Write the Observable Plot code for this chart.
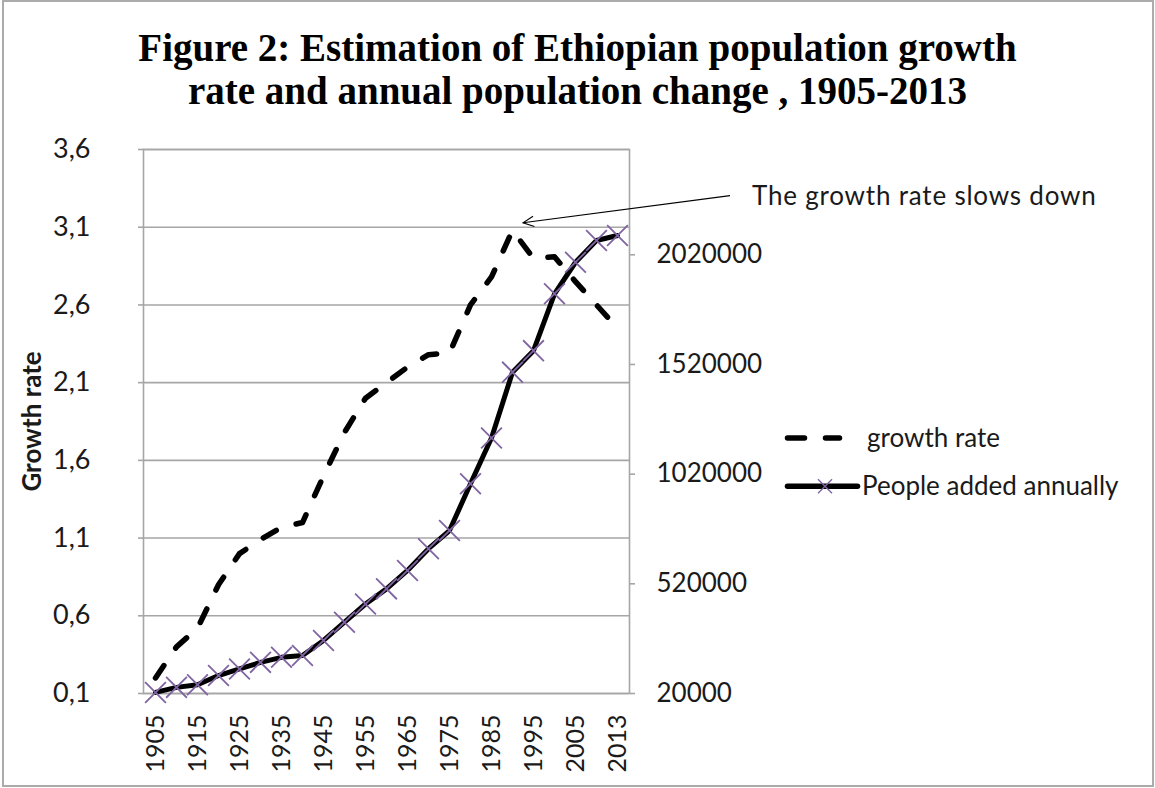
<!DOCTYPE html>
<html>
<head>
<meta charset="utf-8">
<script src="https://cdn.jsdelivr.net/npm/d3@7"></script>
<script src="https://cdn.jsdelivr.net/npm/@observablehq/plot@0.6"></script>
<style>
  body { margin: 0; background: #fff; }
  #wrap { position: relative; width: 1155px; height: 788px; overflow: hidden; background: #fff; }
  #chart { position: absolute; left: 0; top: 0; }
  #title {
    position: absolute; left: 0; top: 26px; width: 1155px; text-align: center;
    font: bold 39px/43px "Liberation Serif", "Times New Roman", serif; color: #000;
  }
  #border {
    position: absolute; left: 2px; top: 0; width: 1152px; height: 787px;
    border: 2px solid #ababab; box-sizing: border-box; pointer-events: none;
  }
</style>
</head>
<body>
<div id="wrap">
  <div id="chart"></div>
  <div id="title">Figure 2: Estimation of Ethiopian population growth<br>rate and annual population change , 1905-2013</div>
  <div id="border"></div>
</div>
<script>
// Categories: every five years from 1905, plus the latest estimate year
const years = ["1905","1910","1915","1920","1925","1930","1935","1940","1945","1950","1955",
  "1960","1965","1970","1975","1980","1985","1990","1995","2000","2005","2010","2013"];

// Annual growth rate (%)
const growthRate = [0.2, 0.4, 0.52, 0.8, 1.0, 1.09, 1.17, 1.2, 1.5, 1.78, 2.0,
  2.1, 2.2, 2.28, 2.29, 2.6, 2.78, 3.08, 2.9, 2.91, 2.75, 2.6, 2.45];

// People added to the population each year
const peopleAdded = [25000, 48000, 60000, 102000, 132000, 162000, 185000, 193000, 262000, 345000, 428000,
  497000, 581000, 680000, 763000, 976000, 1185000, 1485000, 1583000, 1842000, 1986000, 2085000, 2108000];

// Axis ticks
const rateTicks = [0.1, 0.6, 1.1, 1.6, 2.1, 2.6, 3.1, 3.6];
const peopleTicks = [20000, 520000, 1020000, 1520000, 2020000];
const yearLabels = ["1905","1915","1925","1935","1945","1955","1965","1975","1985","1995","2005","2013"];

const rateDomain = [0.1, 3.6];
const peopleDomain = [20000, 2500000];

const seriesNames = ["growth rate", "People added annually"];
const noteText = "The growth rate slows down";
const noteYear = "1990";

const rows = years.map((year, i) => ({year, rate: growthRate[i], people: peopleAdded[i]}));

// Secondary axis: people are drawn on the growth-rate scale through this mapping
const peopleToRate = d3.scaleLinear(peopleDomain, rateDomain);

const textFont = "Lato, 'Open Sans', sans-serif";
const textColor = "#1a1a1a";
const gridColor = "#a6a6a6";
const markerColor = "#8064a2";
const dashPattern = "15 21";

// Legend and annotation, placed to the right of the frame
function sideNotes(index, scales, values, dimensions) {
  const right = dimensions.width - dimensions.marginRight;
  const g = d3.create("svg:g")
    .attr("font-family", textFont).attr("font-size", 26)
    .attr("fill", textColor).attr("text-anchor", "start");

  // arrow from the note to the growth-rate peak
  const peak = growthRate[years.indexOf(noteYear)];
  const tipX = scales.x(noteYear) + 11, tipY = scales.y(peak) - 7;
  const tailX = right + 101, tailY = scales.y(3.3);
  const ang = Math.atan2(tailY - tipY, tailX - tipX);
  const head = 12, spread = 0.45;
  g.append("line").attr("x1", tailX).attr("y1", tailY).attr("x2", tipX).attr("y2", tipY)
    .attr("stroke", "#000").attr("stroke-width", 1.1);
  g.append("path")
    .attr("d", `M${tipX + head * Math.cos(ang - spread)},${tipY + head * Math.sin(ang - spread)}L${tipX},${tipY}L${tipX + head * Math.cos(ang + spread)},${tipY + head * Math.sin(ang + spread)}`)
    .attr("fill", "none").attr("stroke", "#000").attr("stroke-width", 1.1);
  g.append("text").attr("x", right + 123).attr("y", scales.y(3.3)).attr("dy", "0.35em")
    .attr("letter-spacing", 0.8).text(noteText);

  // legend
  const lx = right + 156;
  const row1 = scales.y(1.74), row2 = scales.y(1.43);
  g.append("line").attr("x1", lx + 2.5).attr("x2", lx + 54.5).attr("y1", row1).attr("y2", row1)
    .attr("stroke", "#000").attr("stroke-width", 5.5).attr("stroke-linecap", "round")
    .attr("stroke-dasharray", "17 21");
  g.append("text").attr("x", lx + 82).attr("y", row1).attr("dy", "0.35em").text(seriesNames[0]);
  g.append("line").attr("x1", lx + 2.5).attr("x2", lx + 72.5).attr("y1", row2).attr("y2", row2)
    .attr("stroke", "#000").attr("stroke-width", 5.5).attr("stroke-linecap", "round");
  const mx = lx + 40, ms = 7;
  g.append("path").attr("d", `M${mx - ms},${row2 - ms}L${mx + ms},${row2 + ms}M${mx - ms},${row2 + ms}L${mx + ms},${row2 - ms}`)
    .attr("stroke", markerColor).attr("stroke-width", 1.4);
  g.append("text").attr("x", lx + 77).attr("y", row2).attr("dy", "0.35em").text(seriesNames[1]);
  return g.node();
}

const chart = Plot.plot({
  width: 1155,
  height: 788,
  marginTop: 149,
  marginBottom: 95,
  marginLeft: 143,
  marginRight: 526,
  style: {fontFamily: textFont, fontSize: "24px", color: textColor, background: "transparent", overflow: "visible"},
  x: {type: "point", domain: years, padding: 0.5},
  y: {domain: rateDomain},
  marks: [
    Plot.gridY(rateTicks, {stroke: gridColor, strokeOpacity: 1, strokeWidth: 1.6}),
    Plot.frame({stroke: gridColor, strokeWidth: 1.6}),
    Plot.axisY(rateTicks, {
      anchor: "left", tickSize: 5, tickPadding: 48, stroke: gridColor, strokeWidth: 1.6,
      fill: textColor, fontSize: 27, label: null,
      tickFormat: (d) => d.toFixed(1).replace(".", ",")
    }),
    Plot.axisY(peopleTicks, {
      anchor: "right", y: (d) => peopleToRate(d), tickSize: 5, tickPadding: 22,
      stroke: gridColor, strokeWidth: 1.6, fill: textColor, fontSize: 26, label: null,
      tickFormat: (d) => String(d)
    }),
    Plot.axisX(yearLabels, {
      anchor: "bottom", tickSize: 0, tickPadding: 21, tickRotate: -90,
      fill: textColor, fontSize: 25, label: null
    }),
    Plot.text(["Growth rate"], {
      frameAnchor: "left", dx: -111, rotate: -90, textAnchor: "middle",
      fontWeight: "bold", fontSize: 26, fill: textColor
    }),
    Plot.line(rows, {
      x: "year", y: "rate", stroke: "#000", strokeWidth: 5.5,
      strokeDasharray: dashPattern, strokeLinecap: "round", strokeLinejoin: "round"
    }),
    Plot.line(rows, {
      x: "year", y: (d) => peopleToRate(d.people), stroke: "#000", strokeWidth: 5,
      strokeLinejoin: "round"
    }),
    Plot.dot(rows, {
      x: "year", y: (d) => peopleToRate(d.people), symbol: "times", r: 9.5,
      stroke: markerColor, strokeWidth: 1.8
    }),
    sideNotes
  ]
});

document.getElementById("chart").appendChild(chart);
</script>
</body>
</html>
